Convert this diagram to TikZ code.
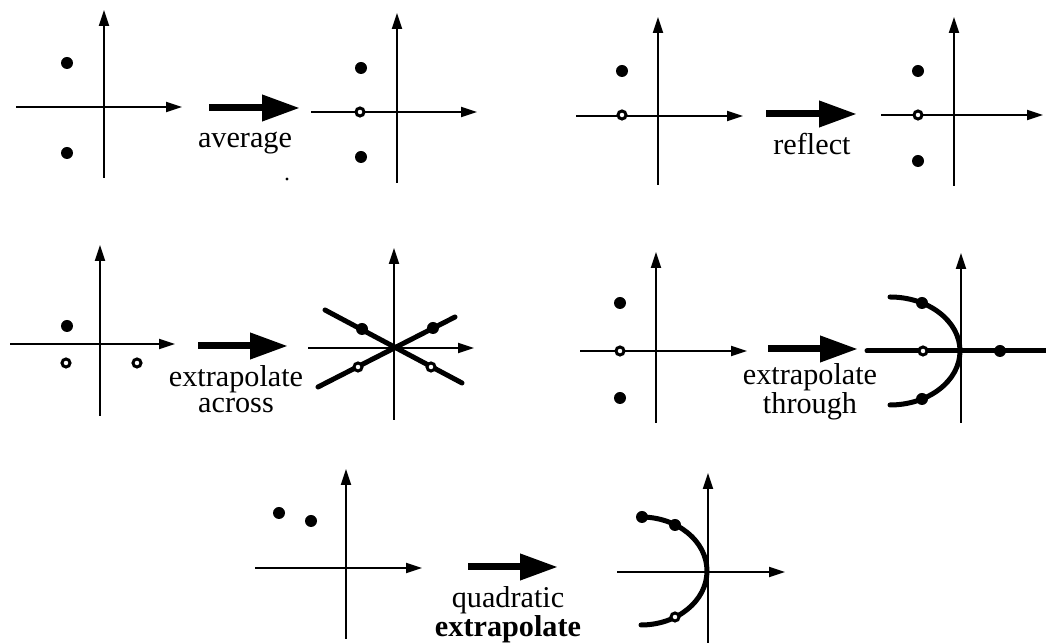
\documentclass[tikz,border=0pt]{standalone}
\usepackage{fontspec}
\setmainfont{Liberation Serif}
\usetikzlibrary{arrows.meta}

\begin{document}
\begin{tikzpicture}[x=0.02cm, y=-0.02cm,
  axis/.style={line width=0.04cm, -{Triangle[length=0.32cm, width=0.2cm]}},
  bigarr/.style={line width=0.14cm, -{Triangle[length=0.76cm, width=0.5cm]}},
  fitline/.style={line width=0.1cm, line cap=round},
  dot/.style={fill=black},
  hole/.style={draw=black, fill=white, line width=0.06cm},
  lbl/.style={font=\fontsize{17.2}{14.8}\selectfont, align=center,
              anchor=base, inner sep=0pt}
]
\useasboundingbox (0,0) rectangle (1046,644);

% axes, row 1
\draw[axis] (16,107) -- (182,107);   \draw[axis] (104,178) -- (104,10);
\draw[axis] (311,112) -- (477,112);  \draw[axis] (397,183) -- (397,13);
\draw[axis] (576,116) -- (743,116);  \draw[axis] (658,185) -- (658,17);
\draw[axis] (881,115) -- (1043,115); \draw[axis] (954,186) -- (954,17);
% axes, row 2
\draw[axis] (10,344) -- (175,344);   \draw[axis] (100,416) -- (100,245);
\draw[axis] (308,348) -- (474,348);  \draw[axis] (394,420) -- (394,248);
\draw[axis] (580,351) -- (747,351);  \draw[axis] (656,423) -- (656,252);
\draw[axis] (961,423) -- (961,253);
% axes, row 3
\draw[axis] (255,568) -- (422,568);  \draw[axis] (346,639) -- (346,469);
\draw[axis] (617,572) -- (785,572);  \draw[axis] (708,643) -- (708,473);

% big arrows
\draw[bigarr] (209,108) -- (300,108);
\draw[bigarr] (766,114) -- (857,114);
\draw[bigarr] (198,346) -- (288,346);
\draw[bigarr] (768,349) -- (858,349);
\draw[bigarr] (468,567) -- (558,567);

% fitted lines and curves
\draw[fitline] (325,310) -- (462,383);
\draw[fitline] (318,387) -- (455,317);
\draw[fitline] (890,297) arc[start angle=-90, end angle=90, x radius=70, y radius=54];
\draw[fitline] (867,351) -- (1046,351);
\draw[fitline] (641,517) arc[start angle=-90, end angle=90, x radius=66, y radius=54];

% data points
\foreach \p in {(67,63), (67,153), (361,68), (361,157), (622,71),
                (918,71), (918,161), (67,326), (362,329), (433,328),
                (620,303), (620,398), (922,303), (922,399), (1000,351),
                (279,513), (311,521), (642,517), (675,525)}
  \fill[dot] \p circle[radius=6];
\foreach \p in {(360,112), (622,115), (918,115), (66,363), (137,363),
                (431,367), (358,367), (620,351), (923,351), (675,617)}
  \draw[hole] \p circle[radius=4];
\fill (287,179) circle[radius=1.6];

% labels (base = last line)
\node[lbl] (avg)     at (245,148) {average};
\node[lbl] (refl)    at (812,155) {reflect};
\node[lbl] (across)  at (236,413) {extrapolate\\across};
\node[lbl] (through) at (810,414) {extrapolate\\through};
\node[lbl] (quad)    at (508,637) {quadratic\\\textbf{extrapolate}};
\end{tikzpicture}
\end{document}
